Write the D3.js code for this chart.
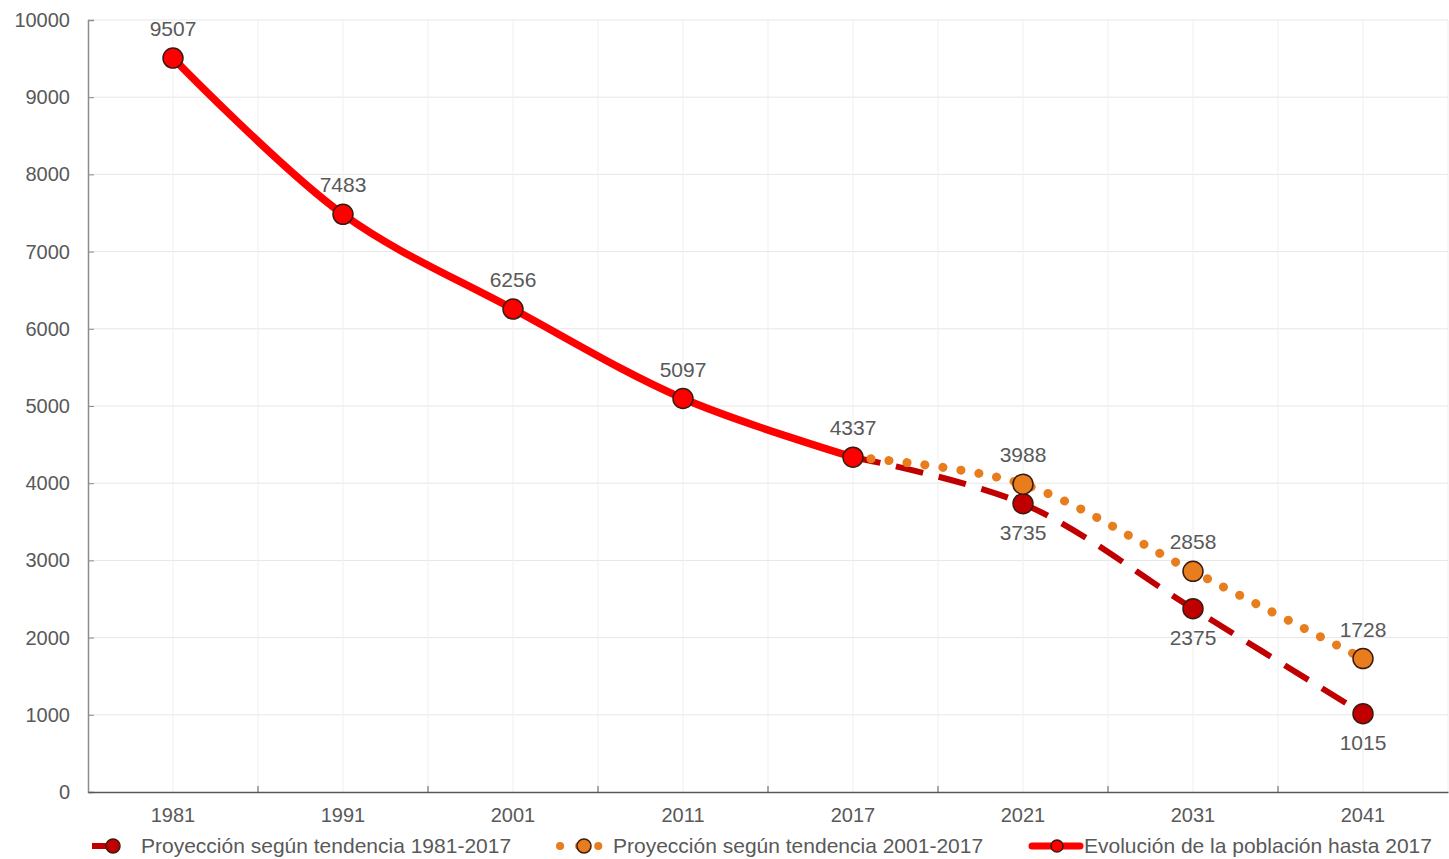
<!DOCTYPE html>
<html>
<head>
<meta charset="utf-8">
<script src="https://cdn.jsdelivr.net/npm/d3@7"></script>
<style>
  body { margin: 0; background: #fff; }
  svg { font-family: "Liberation Sans", Arial, sans-serif; }
</style>
</head>
<body>
<div id="chart"></div>
<script>
// data
let years = ['1981', '1991', '2001', '2011', '2017', '2021', '2031', '2041'];
let historic = [9507, 7483, 6256, 5097, 4337];
let proj8117 = [4337, 3735, 2375, 1015];      // starts at 2017
let proj0117 = [4337, 3988, 2858, 1728];      // starts at 2017
let projYears = ['2017', '2021', '2031', '2041'];
let yTicks = [0, 1000, 2000, 3000, 4000, 5000, 6000, 7000, 8000, 9000, 10000];
let legendLabels = ['Proyección según tendencia 1981-2017',
                    'Proyección según tendencia 2001-2017',
                    'Evolución de la población hasta 2017'];

let margin = { top: 20, right: 1, bottom: 67, left: 88 },
    width = 1449 - margin.left - margin.right,
    height = 859 - margin.top - margin.bottom;

let svg = d3.select("#chart")
    .append("svg")
    .attr("width", 1449)
    .attr("height", 859)
    .append("g")
    .attr("transform", "translate(" + margin.left + "," + margin.top + ")");

const x = d3.scaleBand().domain(years).range([0, 170 * years.length]);
const cx = function(d) { return x(d) + x.bandwidth() / 2; };
const y = d3.scaleLinear().domain([0, 10000]).range([height, 0]);

// gridlines
svg.append("g").selectAll("line.h")
    .data(yTicks.slice(1))
    .enter().append("line")
    .attr("x1", 0).attr("x2", width)
    .attr("y1", d => y(d)).attr("y2", d => y(d))
    .attr("stroke", "#e6e6e6").attr("stroke-width", 1);

let vpos = [];
years.forEach(function(d, i) { vpos.push(cx(d)); if (i > 0) vpos.push(x(d)); });
vpos.push(x(years[years.length - 1]) + x.bandwidth());
svg.append("g").selectAll("line.v")
    .data(vpos)
    .enter().append("line")
    .attr("x1", d => d).attr("x2", d => d)
    .attr("y1", 0).attr("y2", height)
    .attr("stroke", "#efefef").attr("stroke-width", 1);

// axes
let yAxis = svg.append("g")
    .call(d3.axisLeft(y).tickValues(yTicks).tickSize(-6).tickPadding(18).tickFormat(d3.format("d")));
yAxis.select(".domain").attr("stroke", "#8c8c8c").attr("stroke-width", 1.5);
yAxis.selectAll(".tick line").attr("stroke", "#8c8c8c");
yAxis.selectAll("text").style("font-size", "20px").attr("fill", "#595959");

let xAxis = svg.append("g")
    .attr("transform", "translate(0," + height + ")")
    .call(d3.axisBottom(x).tickSize(0).tickPadding(16));
xAxis.select(".domain").attr("stroke", "#595959").attr("stroke-width", 1.5);
xAxis.selectAll("text").style("font-size", "20px").attr("fill", "#595959");
svg.append("g").selectAll("line.xt")
    .data(years.slice(1))
    .enter().append("line")
    .attr("x1", d => x(d)).attr("x2", d => x(d))
    .attr("y1", height).attr("y2", height - 6)
    .attr("stroke", "#595959").attr("stroke-width", 1);

let line = d3.line()
    .x(d => cx(d.year))
    .y(d => y(d.value))
    .curve(d3.curveCatmullRom.alpha(0.5));

let histData = historic.map((v, i) => ({ year: years[i], value: v }));
let p1Data = proj8117.map((v, i) => ({ year: projYears[i], value: v }));
let p2Data = proj0117.map((v, i) => ({ year: projYears[i], value: v }));

svg.append("path").datum(p1Data)
    .attr("d", line).attr("fill", "none")
    .attr("stroke", "#c00000").attr("stroke-width", 6)
    .attr("stroke-dasharray", "28 16");

svg.append("path").datum(p2Data)
    .attr("d", line).attr("fill", "none")
    .attr("stroke", "#e87d1e").attr("stroke-width", 9)
    .attr("stroke-linecap", "round")
    .attr("stroke-dasharray", "0.1 18");

svg.append("path").datum(histData)
    .attr("d", line).attr("fill", "none")
    .attr("stroke", "#ff0000").attr("stroke-width", 7.5);

function markers(data, fill, labelDy) {
    svg.append("g").selectAll("circle")
        .data(data)
        .enter().append("circle")
        .attr("cx", d => cx(d.year)).attr("cy", d => y(d.value))
        .attr("r", 10)
        .attr("fill", fill)
        .attr("stroke", "#3b1a10").attr("stroke-width", 1.5);
    svg.append("g").selectAll("text")
        .data(data)
        .enter().append("text")
        .attr("x", d => cx(d.year)).attr("y", d => y(d.value) + labelDy)
        .attr("text-anchor", "middle")
        .style("font-size", "21px").attr("fill", "#595959")
        .text(d => d.value);
}
markers(p1Data.slice(1), "#c00000", 36);
markers(p2Data.slice(1), "#e87d1e", -22);
markers(histData, "#ff0000", -22);

// legend
let legend = svg.append("g").attr("transform", "translate(0," + (height + 54) + ")");
let lg1 = legend.append("g").attr("transform", "translate(4,0)");
lg1.append("line").attr("x1", 0).attr("x2", 24).attr("y1", 0).attr("y2", 0)
    .attr("stroke", "#c00000").attr("stroke-width", 6);
lg1.append("circle").attr("cx", 21).attr("cy", 0).attr("r", 7)
    .attr("fill", "#c00000").attr("stroke", "#3b1a10").attr("stroke-width", 1.5);
lg1.append("text").attr("x", 49).attr("y", 7).style("font-size", "21px").attr("fill", "#595959").text(legendLabels[0]);

let lg2 = legend.append("g").attr("transform", "translate(472,0)");
lg2.append("line").attr("x1", 0).attr("x2", 40).attr("y1", 0).attr("y2", 0)
    .attr("stroke", "#e87d1e").attr("stroke-width", 8).attr("stroke-linecap", "round")
    .attr("stroke-dasharray", "0.1 19");
lg2.append("circle").attr("cx", 24).attr("cy", 0).attr("r", 7)
    .attr("fill", "#e87d1e").attr("stroke", "#3b1a10").attr("stroke-width", 1.5);
lg2.append("text").attr("x", 53).attr("y", 7).style("font-size", "21px").attr("fill", "#595959").text(legendLabels[1]);

let lg3 = legend.append("g").attr("transform", "translate(944,0)");
lg3.append("line").attr("x1", 0).attr("x2", 48).attr("y1", 0).attr("y2", 0)
    .attr("stroke", "#ff0000").attr("stroke-width", 7).attr("stroke-linecap", "round");
lg3.append("circle").attr("cx", 25).attr("cy", 0).attr("r", 6)
    .attr("fill", "#ff0000").attr("stroke", "#3b1a10").attr("stroke-width", 1.5);
lg3.append("text").attr("x", 52).attr("y", 7).style("font-size", "21px").attr("fill", "#595959").text(legendLabels[2]);
</script>
</body>
</html>
